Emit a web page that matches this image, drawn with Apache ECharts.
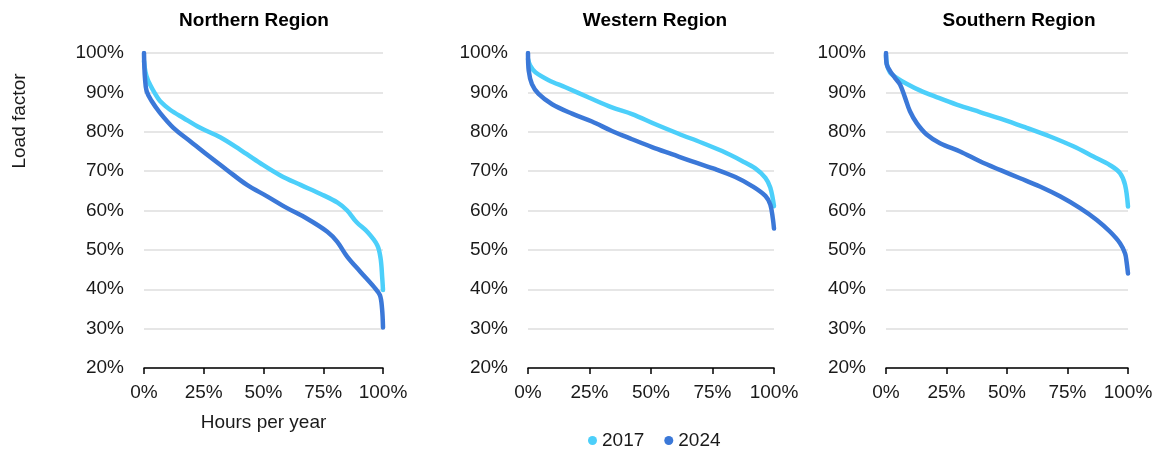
<!DOCTYPE html>
<html>
<head>
<meta charset="utf-8">
<title>Load duration curves</title>
<script src="https://cdn.jsdelivr.net/npm/echarts@6/dist/echarts.min.js"></script>
<style>
  html, body { margin: 0; padding: 0; background: #fff; }
  #chart { width: 1160px; height: 452px; }
</style>
</head>
<body>
<div id="chart"></div>
<script>
// share of hours per year (%) and load factor (%)
const regions = ['Northern Region', 'Western Region', 'Southern Region']
const years = ['2017', '2024']
const xTicks = [0, 25, 50, 75, 100]
const yTicks = [20, 30, 40, 50, 60, 70, 80, 90, 100]

const north2017 = [
  [0, 98], [0.6, 95.2], [1.5, 93.3], [2.5, 92], [4.5, 89.8], [6.7, 87.8], [10.9, 85.6],
  [16.5, 83.5], [23.5, 81], [31.9, 78.6], [40.3, 75.4], [48.7, 72], [57.1, 68.9],
  [65.5, 66.5], [73.9, 64.2], [81, 62], [85, 60], [89, 57], [93.4, 54.6], [97.6, 51.2],
  [99, 47.8], [99.7, 42.7], [100, 39.8]
]
const north2024 = [
  [0, 100], [0.15, 96.5], [0.4, 93.7], [1.1, 90.3], [3.2, 87.8], [6.7, 84.8],
  [12.3, 81], [19.3, 77.6], [26.3, 74.2], [34.7, 70.3], [43.1, 66.5], [51.5, 63.6],
  [59.9, 60.6], [68.3, 57.9], [76.7, 54.6], [80.8, 52.1], [85, 48.3], [90.6, 44.4],
  [96.2, 40.6], [98.7, 38.5], [99.6, 35.1], [100, 30.3]
]
const west2017 = [
  [0, 98.5], [0.9, 96.8], [3, 95.1], [8.4, 93.1], [15.2, 91.3], [24.7, 88.7],
  [34.1, 86.2], [42.3, 84.5], [51.8, 81.9], [61.2, 79.5], [70.7, 77.2], [78.9, 75.1],
  [87, 72.6], [92.4, 70.7], [96.5, 68.3], [98.5, 65.8], [100, 61.1]
]
const west2024 = [
  [0, 100], [0.3, 95.5], [1.6, 92.1], [4.3, 89.6], [9.8, 87], [17.9, 84.6],
  [26, 82.6], [34.1, 80.2], [42.3, 78.1], [50.4, 76.1], [58.5, 74.3], [68, 72.2],
  [76.2, 70.5], [84.3, 68.5], [91.1, 66.2], [96.5, 63.7], [98.5, 61.5], [99.5, 58.1],
  [100, 55.4]
]
const south2017 = [
  [0, 99.5], [0.4, 97.1], [1.7, 95], [4.4, 93.7], [8.5, 92.2], [14, 90.5], [20.9, 88.8],
  [29.2, 86.9], [38.8, 85], [48.5, 83.1], [58.1, 81], [67.8, 78.8], [77.4, 76.3],
  [85.7, 73.7], [92.6, 71.5], [96.7, 69.5], [98.8, 66.5], [100, 61]
]
const south2024 = [
  [0, 100], [0.3, 97.1], [1.7, 95.4], [3.7, 93.7], [5.8, 92], [7.9, 88.6], [9.9, 85.2],
  [12.7, 82.2], [16.8, 79.3], [22.3, 77.1], [30.6, 75], [38.8, 72.5], [47.1, 70.3],
  [55.4, 68.2], [63.6, 66.1], [71.9, 63.6], [80.2, 60.6], [87.1, 57.6], [92.6, 54.6],
  [96.7, 51.7], [98.8, 49.1], [99.4, 47], [100, 44]
]

const seriesData = [
  [north2017, north2024],
  [west2017, west2024],
  [south2017, south2024]
]

const colors = ['#4ccffa', '#3b78d8']
const fontFamily = "'Liberation Sans', Arial, sans-serif"
const textColor = '#1a1a1a'

// 每个小图的位置
const grids = [
  { left: 144, top: 53, width: 239, height: 315 },
  { left: 528, top: 53, width: 246, height: 315 },
  { left: 886, top: 53, width: 242, height: 315 }
]
const titleCenters = [254, 655, 1019]

const chart = echarts.init(document.getElementById('chart'))

const option = {
  animation: false,
  color: colors,
  textStyle: { fontFamily: fontFamily },
  title: regions.map((name, i) => ({
    text: name,
    left: titleCenters[i],
    top: 11,
    padding: 0,
    textAlign: 'center',
    textStyle: { fontSize: 19, fontWeight: 'bold', color: '#000', fontFamily: fontFamily }
  })),
  legend: {
    data: years,
    left: 583,
    top: 426,
    icon: 'circle',
    itemWidth: 9,
    itemHeight: 9,
    itemGap: 20,
    textStyle: { fontSize: 19, color: textColor, fontFamily: fontFamily }
  },
  grid: grids.map(g => Object.assign({ containLabel: false }, g)),
  xAxis: grids.map((g, i) => ({
    gridIndex: i,
    type: 'value',
    min: xTicks[0],
    max: xTicks[xTicks.length - 1],
    interval: 25,
    name: i === 0 ? 'Hours per year' : '',
    nameLocation: 'middle',
    nameGap: 45,
    nameTextStyle: { fontSize: 19, color: textColor, fontFamily: fontFamily },
    axisLine: { show: true, lineStyle: { color: '#000', width: 1.5 } },
    axisTick: { show: true, length: 6, lineStyle: { color: '#000', width: 1.5 } },
    axisLabel: {
      formatter: '{value}%',
      fontSize: 19,
      color: textColor,
      margin: 15,
      showMaxLabel: true,
      showMinLabel: true
    },
    splitLine: { show: false }
  })),
  yAxis: grids.map((g, i) => ({
    gridIndex: i,
    type: 'value',
    min: yTicks[0],
    max: yTicks[yTicks.length - 1],
    interval: 10,
    axisLine: { show: false },
    axisTick: { show: false },
    axisLabel: { formatter: '{value}%', fontSize: 19, color: textColor, margin: 20 },
    splitLine: { show: true, lineStyle: { color: '#dedede', width: 1.5 } }
  })),
  series: [],
  graphic: [
    {
      type: 'text',
      x: 20,
      y: 121,
      rotation: Math.PI / 2,
      style: {
        text: 'Load factor',
        fontSize: 19,
        fontFamily: fontFamily,
        fill: textColor,
        align: 'center',
        verticalAlign: 'middle'
      }
    }
  ]
}

seriesData.forEach((pair, i) => {
  pair.forEach((data, j) => {
    option.series.push({
      name: years[j],
      type: 'line',
      xAxisIndex: i,
      yAxisIndex: i,
      data: data,
      smooth: 0.35,
      showSymbol: false,
      lineStyle: { width: 4.5, color: colors[j], cap: 'round' },
      itemStyle: { color: colors[j] },
      z: 2 + j
    })
  })
})

chart.setOption(option)
</script>
</body>
</html>
